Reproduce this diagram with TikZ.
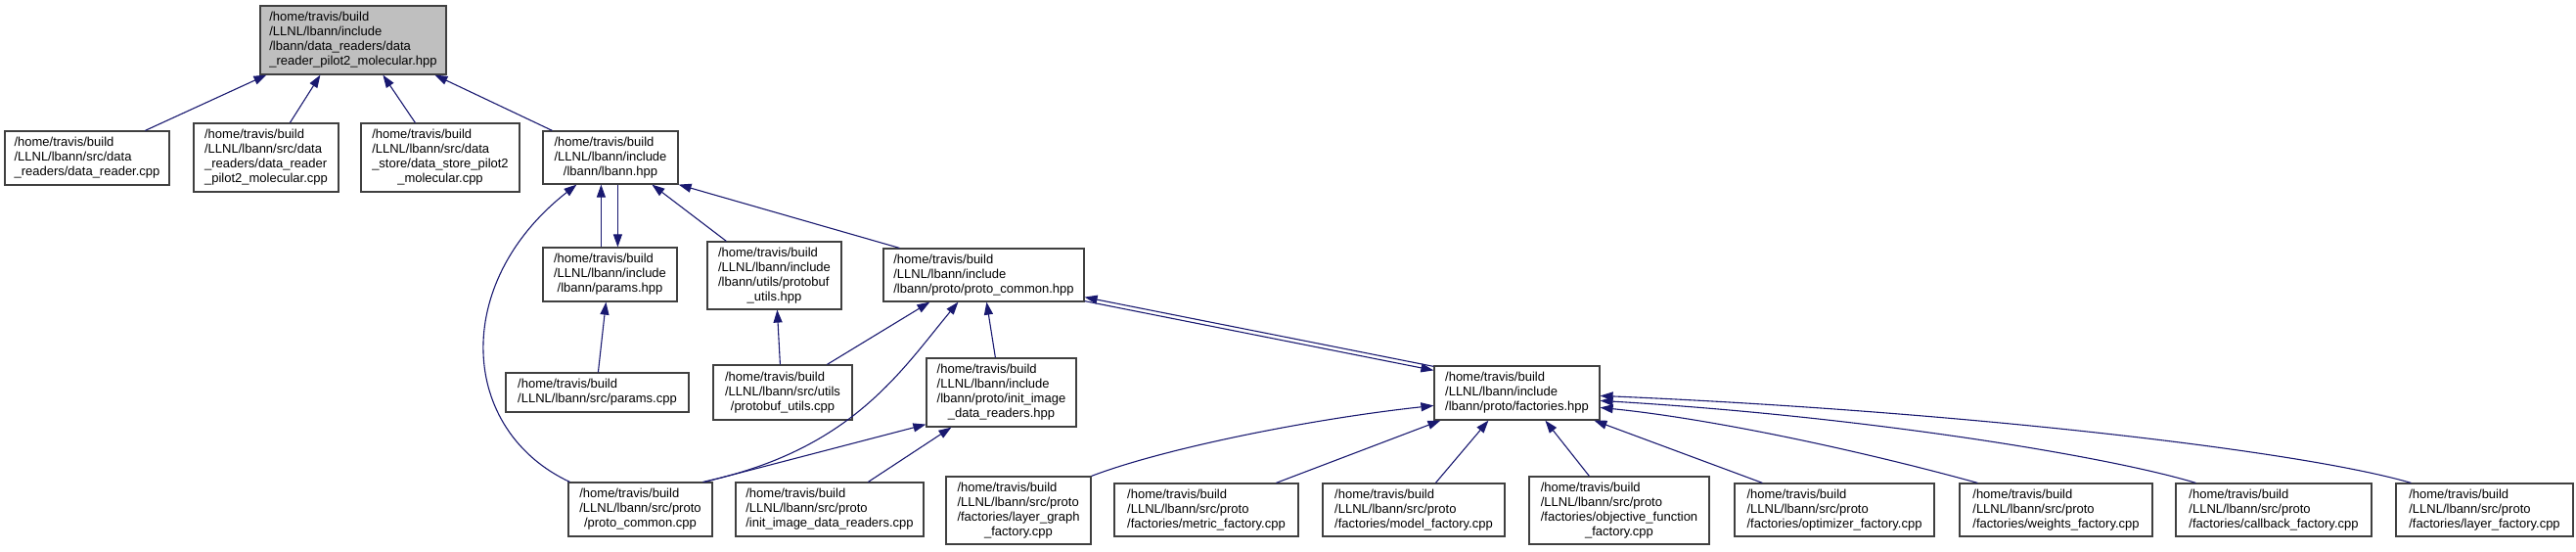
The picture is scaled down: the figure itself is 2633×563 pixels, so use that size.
\documentclass[tikz,border=0pt]{standalone}
\usepackage{fontspec}
\setmainfont{Liberation Sans}
\usetikzlibrary{arrows.meta}
\definecolor{edgecol}{HTML}{191970}
\definecolor{boxline}{HTML}{404040}
\definecolor{rootfill}{HTML}{BFBFBF}
\tikzset{
  box/.style={draw=boxline, line width=1.2pt, fill=white, inner sep=0pt, anchor=center, font=\fontsize{13}{15}\selectfont},
  dep/.style={draw=edgecol, line width=1.1pt, -{Triangle[length=13pt,width=9pt]}},
}
\newcommand{\dbox}[7][]{\node[box,#1,minimum width={#5-#3},minimum height={#6-#4}] (#2) at ({(#3+#5)/2},{(#4+#6)/2}) {\begin{tabular}{@{}l@{}}#7\end{tabular}};}
\newcommand{\lastc}[1]{\multicolumn{1}{@{}c@{}}{#1}}
\begin{document}
\begin{tikzpicture}[x=1pt,y=-1pt]
\useasboundingbox (0,0) rectangle (2633,563);
% row 1
\dbox[fill=rootfill]{root}{266}{6}{456}{76}{/home/travis/build\\/LLNL/lbann/include\\/lbann/data\_readers/data\\\lastc{\_reader\_pilot2\_molecular.hpp}}
% row 2
\dbox{dr}{5}{134}{173}{189}{/home/travis/build\\/LLNL/lbann/src/data\\\lastc{\_readers/data\_reader.cpp}}
\dbox{drp}{198}{126}{346}{196}{/home/travis/build\\/LLNL/lbann/src/data\\\_readers/data\_reader\\\lastc{\_pilot2\_molecular.cpp}}
\dbox{dsp}{369}{126}{531}{196}{/home/travis/build\\/LLNL/lbann/src/data\\\_store/data\_store\_pilot2\\\lastc{\_molecular.cpp}}
\dbox{lbann}{555}{134}{693}{188}{/home/travis/build\\/LLNL/lbann/include\\\lastc{/lbann/lbann.hpp}}
% row 3
\dbox{ph}{555}{253}{692}{308}{/home/travis/build\\/LLNL/lbann/include\\\lastc{/lbann/params.hpp}}
\dbox{pbh}{723}{247}{860}{316}{/home/travis/build\\/LLNL/lbann/include\\/lbann/utils/protobuf\\\lastc{\_utils.hpp}}
\dbox{pch}{903}{254}{1108}{308}{/home/travis/build\\/LLNL/lbann/include\\\lastc{/lbann/proto/proto\_common.hpp}}
% row 4
\dbox{pcpp}{517}{381}{704}{421}{/home/travis/build\\\lastc{/LLNL/lbann/src/params.cpp}}
\dbox{pbcpp}{729}{373}{871}{429}{/home/travis/build\\/LLNL/lbann/src/utils\\\lastc{/protobuf\_utils.cpp}}
\dbox{iih}{947}{366}{1100}{436}{/home/travis/build\\/LLNL/lbann/include\\/lbann/proto/init\_image\\\lastc{\_data\_readers.hpp}}
\dbox{fh}{1466}{374}{1635}{429}{/home/travis/build\\/LLNL/lbann/include\\\lastc{/lbann/proto/factories.hpp}}
% row 5
\dbox{pccpp}{581}{493}{728}{548}{/home/travis/build\\/LLNL/lbann/src/proto\\\lastc{/proto\_common.cpp}}
\dbox{iicpp}{752}{493}{944}{548}{/home/travis/build\\/LLNL/lbann/src/proto\\\lastc{/init\_image\_data\_readers.cpp}}
\dbox{lg}{967}{487}{1115}{556}{/home/travis/build\\/LLNL/lbann/src/proto\\/factories/layer\_graph\\\lastc{\_factory.cpp}}
\dbox{metric}{1139}{494}{1327}{548}{/home/travis/build\\/LLNL/lbann/src/proto\\\lastc{/factories/metric\_factory.cpp}}
\dbox{model}{1352}{494}{1538}{548}{/home/travis/build\\/LLNL/lbann/src/proto\\\lastc{/factories/model\_factory.cpp}}
\dbox{obj}{1563}{487}{1747}{556}{/home/travis/build\\/LLNL/lbann/src/proto\\/factories/objective\_function\\\lastc{\_factory.cpp}}
\dbox{opt}{1773}{494}{1977}{548}{/home/travis/build\\/LLNL/lbann/src/proto\\\lastc{/factories/optimizer\_factory.cpp}}
\dbox{weights}{2003}{494}{2200}{548}{/home/travis/build\\/LLNL/lbann/src/proto\\\lastc{/factories/weights\_factory.cpp}}
\dbox{callback}{2224}{494}{2424}{548}{/home/travis/build\\/LLNL/lbann/src/proto\\\lastc{/factories/callback\_factory.cpp}}
\dbox{layerf}{2449}{494}{2630}{548}{/home/travis/build\\/LLNL/lbann/src/proto\\\lastc{/factories/layer\_factory.cpp}}
% edges
\draw[dep] ([xshift=144]dr.north west) -- ([xshift=7]root.south west);
\draw[dep] ([xshift=99]drp.north west) -- ([xshift=62]root.south west);
\draw[dep] ([xshift=56]dsp.north west) -- ([xshift=126]root.south west);
\draw[dep] ([xshift=10]lbann.north west) -- ([xshift=179]root.south west);
\draw[dep] ([xshift=2]pccpp.north west) .. controls (470,440) and (460,290) .. ([xshift=35]lbann.south west);
\draw[dep] ([xshift=60]ph.north west) -- ([xshift=60]lbann.south west);
\draw[dep] ([xshift=77]lbann.south west) -- ([xshift=77]ph.north west);
\draw[dep] ([xshift=20]pbh.north west) -- ([xshift=112]lbann.south west);
\draw[dep] ([xshift=17]pch.north west) -- (lbann.south east);
\draw[dep] ([xshift=117]pbcpp.north west) -- ([xshift=48]pch.south west);
\draw[dep] ([xshift=138]pccpp.north west) .. controls (870,460) and (920,380) .. ([xshift=77]pch.south west);
\draw[dep] ([xshift=71]iih.north west) -- ([xshift=106]pch.south west);
\draw[dep] ([yshift=-1]fh.north west) -- ([yshift=5]pch.south east);
\draw[dep] ([yshift=1]pch.south east) -- ([yshift=-5]fh.north west);
\draw[dep] ([xshift=140]pccpp.north west) -- ([yshift=3]iih.south west);
\draw[dep] ([xshift=136]iicpp.north west) -- ([xshift=26]iih.south west);
\draw[dep] ([xshift=95]pcpp.north west) -- ([xshift=65]ph.south west);
\draw[dep] ([xshift=69]pbcpp.north west) -- ([xshift=72]pbh.south west);
\draw[dep] (lg.north east) .. controls (1190,458) and (1340,428) .. ([yshift=-41]fh.north west);
\draw[dep] ([xshift=166]metric.north west) -- ([xshift=7]fh.south west);
\draw[dep] ([xshift=116]model.north west) -- ([xshift=56]fh.south west);
\draw[dep] ([xshift=62]obj.north west) -- ([xshift=114]fh.south west);
\draw[dep] ([xshift=29]opt.north west) -- ([xshift=164]fh.south west);
\draw[dep] ([xshift=19]weights.north west) .. controls (1900,460) and (1750,428) .. ([yshift=-43]fh.north east);
\draw[dep] ([xshift=21]callback.north west) .. controls (2150,465) and (1900,425) .. ([yshift=-36]fh.north east);
\draw[dep] ([xshift=16]layerf.north west) .. controls (2350,460) and (2000,420) .. ([yshift=-31]fh.north east);
\end{tikzpicture}
\end{document}
